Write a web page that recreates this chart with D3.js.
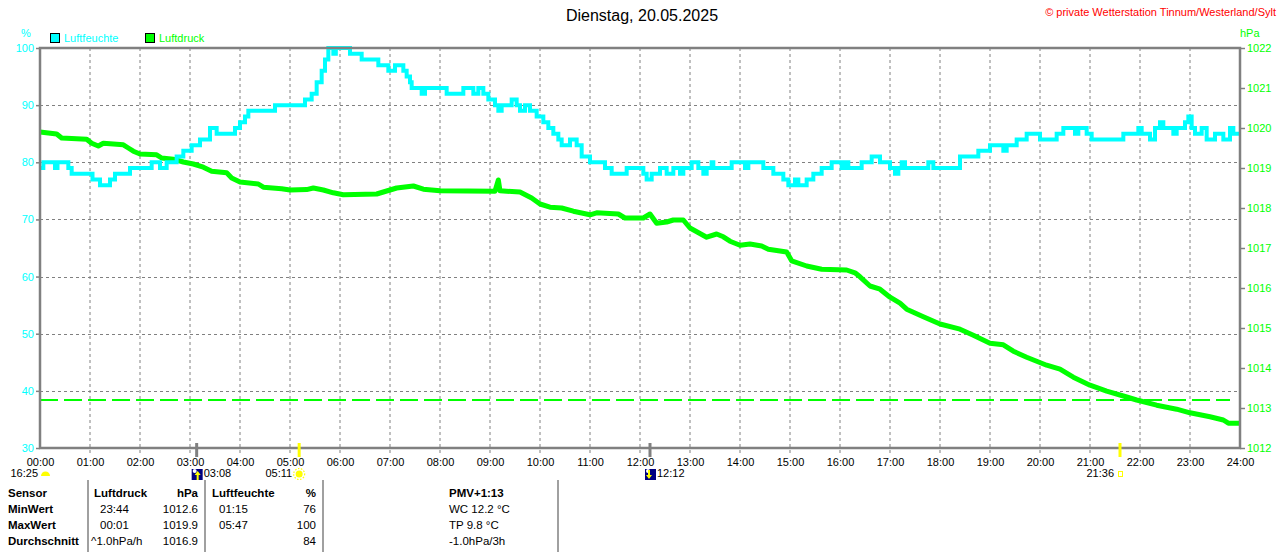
<!DOCTYPE html>
<html>
<head>
<meta charset="utf-8">
<script src="https://cdn.jsdelivr.net/npm/d3@7"></script>
<style>
	body { margin: 0; background: #fff; }
	svg { display: block; font-family: "Liberation Sans", Arial, sans-serif; }
</style>
</head>
<body>
<div id="chart"></div>
<script>
// tick labels
var hourLabels = ["00:00","01:00","02:00","03:00","04:00","05:00","06:00","07:00","08:00","09:00","10:00","11:00","12:00",
	"13:00","14:00","15:00","16:00","17:00","18:00","19:00","20:00","21:00","22:00","23:00","24:00"];
var humidityTicks = [30, 40, 50, 60, 70, 80, 90, 100];
var pressureTicks = [1012, 1013, 1014, 1015, 1016, 1017, 1018, 1019, 1020, 1021, 1022];

// [minute of day, %]
var humidity = [
	[0,79],[4,80],[18,79],[21,80],[34,79],[38,78],[63,77],[72,76],[84,77],[90,78],[108,79],[134,80],[144,79],
	[152,80],[164,81],[172,82],[182,83],[192,84],[204,86],[212,85],[234,86],[240,87],[246,88],[250,89],[282,90],
	[318,91],[326,92],[332,94],[338,96],[342,98],[346,100],[352,99],[355,100],[372,99],[386,98],[406,97],[418,96],
	[426,97],[436,96],[440,95],[444,94],[446,93],[458,92],[462,93],[488,92],[508,93],[520,92],[526,93],[532,92],
	[538,91],[546,90],[550,89],[554,90],[566,91],[572,90],[576,89],[582,90],[588,89],[596,88],[604,87],[610,86],
	[616,85],[622,84],[626,83],[636,84],[644,83],[650,81],[660,80],[678,79],[686,78],[704,79],[724,78],[728,77],
	[734,78],[744,79],[752,78],[760,79],[768,78],[772,79],[782,80],[790,79],[796,78],[800,79],[806,80],[808,79],
	[830,80],[846,79],[850,80],[868,79],[880,78],[892,77],[898,76],[906,77],[910,76],[920,77],[928,78],[938,79],
	[950,80],[962,79],[966,80],[970,79],[986,80],[998,81],[1008,80],[1020,79],[1026,78],[1030,79],[1034,80],
	[1038,79],[1066,80],[1072,79],[1104,81],[1126,82],[1140,83],[1156,82],[1160,83],[1172,84],[1184,85],
	[1200,84],[1220,85],[1228,86],[1242,85],[1246,86],[1256,85],[1262,84],[1300,85],[1318,86],[1322,85],
	[1332,84],[1338,86],[1344,87],[1348,86],[1360,85],[1364,86],[1374,87],[1378,88],[1382,86],[1386,85],
	[1394,86],[1400,84],[1410,85],[1420,84],[1428,86],[1432,85],[1440,85]
];

// [minute of day, hPa]
var pressure = [
	[0,1019.9],[20,1019.85],[26,1019.75],[56,1019.72],[62,1019.62],[70,1019.55],[76,1019.62],[100,1019.58],
	[106,1019.5],[112,1019.42],[120,1019.35],[140,1019.33],[146,1019.25],[160,1019.22],[172,1019.15],
	[184,1019.1],[196,1019.02],[206,1018.92],[224,1018.88],[230,1018.75],[240,1018.65],[262,1018.6],
	[268,1018.52],[290,1018.48],[300,1018.45],[320,1018.46],[328,1018.5],[340,1018.45],[352,1018.38],
	[364,1018.33],[404,1018.35],[412,1018.4],[428,1018.5],[448,1018.55],[460,1018.47],[480,1018.43],
	[546,1018.42],[550,1018.7],[552,1018.43],[576,1018.4],[590,1018.25],[600,1018.1],[612,1018.02],
	[626,1018.0],[640,1017.92],[660,1017.83],[668,1017.88],[694,1017.85],[702,1017.75],[724,1017.75],
	[732,1017.85],[740,1017.62],[752,1017.65],[760,1017.7],[772,1017.7],[780,1017.5],[800,1017.27],
	[812,1017.35],[820,1017.28],[828,1017.17],[840,1017.07],[852,1017.1],[866,1017.05],[874,1016.97],
	[896,1016.9],[902,1016.68],[920,1016.55],[938,1016.47],[968,1016.45],[978,1016.38],[984,1016.28],
	[996,1016.05],[1008,1015.97],[1020,1015.77],[1032,1015.62],[1040,1015.47],[1060,1015.28],[1080,1015.1],
	[1104,1014.97],[1120,1014.82],[1140,1014.62],[1156,1014.58],[1168,1014.42],[1184,1014.27],[1208,1014.07],
	[1224,1013.97],[1240,1013.77],[1260,1013.57],[1280,1013.42],[1300,1013.3],[1316,1013.2],[1340,1013.07],
	[1364,1012.97],[1380,1012.88],[1404,1012.78],[1420,1012.7],[1426,1012.62],[1440,1012.62]
];
var pressureRef = 1013.2;

// sun / moon events
var events = [
	{time: 0, label: "16:25", kind: "dome"},
	{time: 188, label: "03:08", kind: "moonrise"},
	{time: 311, label: "05:11", kind: "sunrise"},
	{time: 732, label: "12:12", kind: "moonset"},
	{time: 1296, label: "21:36", kind: "sunset"}
];

// statistics table
var tableHeader = ["Sensor", "Luftdruck", "hPa", "Luftfeuchte", "%", "PMV+1:13"];
var rowLabels = ["MinWert", "MaxWert", "Durchschnitt"];
var pressureStats = [["23:44", "1012.6"], ["00:01", "1019.9"], ["^1.0hPa/h", "1016.9"]];
var humidityStats = [["01:15", "76"], ["05:47", "100"], ["", "84"]];
var pmvStats = ["WC 12.2 °C", "TP 9.8 °C", "-1.0hPa/3h"];

var W = 1280, H = 552,
		margin = {top: 48, right: 40, bottom: 104, left: 40},
		cyan = "#00ffff", green = "#00ff00", grey = "#808080";

var x = d3.scaleLinear().domain([0, 1440]).range([margin.left, W - margin.right]);
var yH = d3.scaleLinear().domain([30, 100]).range([H - margin.bottom, margin.top]);
var yP = d3.scaleLinear().domain([1012, 1022]).range([H - margin.bottom, margin.top]);

var svg = d3.select("#chart").append("svg")
		.attr("width", W)
		.attr("height", H);

// title and copyright
svg.append("text")
		.attr("x", 642).attr("y", 21)
		.attr("text-anchor", "middle")
		.style("font-size", "16px")
		.text("Dienstag, 20.05.2025");

svg.append("text")
		.attr("x", 1276).attr("y", 16)
		.attr("text-anchor", "end")
		.style("font-size", "11px")
		.attr("fill", "#ff0000")
		.text("© private Wetterstation Tinnum/Westerland/Sylt");

// units
svg.append("text").attr("x", 26).attr("y", 37).attr("text-anchor", "middle")
		.style("font-size", "11px").attr("fill", cyan).text("%");
svg.append("text").attr("x", 1240).attr("y", 37)
		.style("font-size", "11px").attr("fill", green).text("hPa");

// legend
var legend = svg.append("g").attr("class", "legend");
var legendItems = [{name: "Luftfeuchte", color: cyan, x: 50}, {name: "Luftdruck", color: green, x: 145}];
var lg = legend.selectAll("g").data(legendItems).enter().append("g")
		.attr("transform", function(d) { return "translate(" + d.x + ",33)"; });
lg.append("rect").attr("x", 0.5).attr("y", 0.5).attr("width", 9).attr("height", 9)
		.attr("fill", function(d) { return d.color; }).attr("stroke", "#000");
lg.append("text").attr("x", 14).attr("y", 9)
		.style("font-size", "11px")
		.attr("fill", function(d) { return d.color; })
		.text(function(d) { return d.name; });

// grid
var grid = svg.append("g").attr("class", "grid")
		.attr("stroke", grey).attr("stroke-width", 1).attr("stroke-dasharray", "3,3");
grid.selectAll(".vgrid").data(d3.range(1, 24)).enter().append("line")
		.attr("x1", function(d) { return x(d * 60); })
		.attr("x2", function(d) { return x(d * 60); })
		.attr("y1", margin.top).attr("y2", H - margin.bottom + 5);
grid.selectAll(".hgrid").data(humidityTicks.slice(1, -1)).enter().append("line")
		.attr("x1", margin.left).attr("x2", W - margin.right)
		.attr("y1", function(d) { return Math.round(yH(d)) + 0.5; })
		.attr("y2", function(d) { return Math.round(yH(d)) + 0.5; });

// pressure reference line
svg.append("line")
		.attr("x1", margin.left).attr("x2", W - margin.right - 10)
		.attr("y1", yP(pressureRef)).attr("y2", yP(pressureRef))
		.attr("stroke", green).attr("stroke-width", 2).attr("stroke-dasharray", "18,6");

// lines
var lineP = d3.line()
		.x(function(d) { return x(d[0]); })
		.y(function(d) { return yP(d[1]); });
var lineH = d3.line()
		.x(function(d) { return x(d[0]); })
		.y(function(d) { return yH(d[1]); })
		.curve(d3.curveStepAfter);

svg.append("path").datum(pressure)
		.attr("d", lineP)
		.attr("fill", "none").attr("stroke", green).attr("stroke-width", 5)
		.attr("stroke-linejoin", "round");
svg.append("path").datum(humidity)
		.attr("d", lineH)
		.attr("fill", "none").attr("stroke", cyan).attr("stroke-width", 4);

// frame
svg.append("path")
		.attr("d", "M" + margin.left + "," + (H - margin.bottom) + "V" + margin.top + "H" + (W - margin.right) + "V" + (H - margin.bottom) + "Z")
		.attr("fill", "none").attr("stroke", grey).attr("stroke-width", 2.5);

// axes
var axisLeft = d3.axisLeft(yH).tickValues(humidityTicks).tickSize(4).tickPadding(2);
var axisRight = d3.axisRight(yP).tickValues(pressureTicks).tickSize(5).tickPadding(2).tickFormat(d3.format("d"));
var axisBottom = d3.axisBottom(x).tickValues(d3.range(0, 1441, 60)).tickSize(0).tickPadding(10)
		.tickFormat(function(d, i) { return hourLabels[i]; });

var gl = svg.append("g").attr("transform", "translate(" + margin.left + ",0)").call(axisLeft);
var gr = svg.append("g").attr("transform", "translate(" + (W - margin.right) + ",0)").call(axisRight);
var gb = svg.append("g").attr("transform", "translate(0," + (H - margin.bottom) + ")").call(axisBottom);

[gl, gr, gb].forEach(function(g) {
	g.select(".domain").remove();
	g.selectAll("line").attr("stroke", grey).attr("stroke-width", 1.5);
	g.selectAll("text").style("font-size", "11px").attr("font-family", null);
});
gl.selectAll("text").attr("fill", cyan);
gr.selectAll("text").attr("fill", green);
gb.selectAll("text").attr("fill", "#000");

// event ticks and icons
var ev = svg.append("g").attr("class", "events");
ev.selectAll(".evtick").data(events.filter(function(d) { return d.time > 0; })).enter().append("line")
		.attr("x1", function(d) { return x(d.time); })
		.attr("x2", function(d) { return x(d.time); })
		.attr("y1", H - margin.bottom - 5).attr("y2", H - margin.bottom + 9)
		.attr("stroke", function(d) { return d.kind.indexOf("sun") === 0 ? "#ffff00" : grey; })
		.attr("stroke-width", 3);

events.forEach(function(d) {
	var cx = x(d.time), ty = 477;
	var g = ev.append("g");
	if (d.kind === "dome") {
		g.append("path").attr("d", "M" + (cx + 1) + ",476 A4.5,4.5 0 0 1 " + (cx + 10) + ",476 Z").attr("fill", "#ffff00");
		g.append("text").attr("x", cx - 2).attr("y", ty).attr("text-anchor", "end").style("font-size", "11px").text(d.label);
	} else if (d.kind === "moonrise" || d.kind === "moonset") {
		g.append("rect").attr("x", cx - 5).attr("y", 469).attr("width", 11).attr("height", 11).attr("fill", "#000080");
		g.append("circle").attr("cx", cx - 2).attr("cy", 471).attr("r", 2).attr("fill", "#fff");
		g.append("path")
				.attr("d", d.kind === "moonrise"
					? "M" + (cx + 1) + ",471 l-3,4 h2 v5 h2 v-5 h2 Z"
					: "M" + (cx - 1) + ",479 l-3,-4 h2 v-5 h2 v5 h2 Z")
				.attr("fill", "#ffff00");
		g.append("text").attr("x", cx + 7).attr("y", ty).style("font-size", "11px").text(d.label);
	} else if (d.kind === "sunrise") {
		g.append("circle").attr("cx", cx).attr("cy", 474).attr("r", 3.5).attr("fill", "#ffff00");
		g.append("circle").attr("cx", cx).attr("cy", 474).attr("r", 5.5).attr("fill", "none")
				.attr("stroke", "#ffff00").attr("stroke-width", 1.2).attr("stroke-dasharray", "1.5,1.5");
		g.append("text").attr("x", cx - 7).attr("y", ty).attr("text-anchor", "end").style("font-size", "11px").text(d.label);
	} else {
		g.append("rect").attr("x", cx - 1.5).attr("y", 471.5).attr("width", 4).attr("height", 5)
				.attr("fill", "none").attr("stroke", "#ffff00").attr("stroke-width", 1);
		g.append("text").attr("x", cx - 6).attr("y", ty).attr("text-anchor", "end").style("font-size", "11px").text(d.label);
	}
});

// table
var table = svg.append("g").attr("class", "table").style("font-size", "11.5px");
[88, 205, 323, 558].forEach(function(lx) {
	table.append("line").attr("x1", lx).attr("x2", lx).attr("y1", 480).attr("y2", H)
			.attr("stroke", grey).attr("stroke-width", 1.5);
});

var rowY = [497, 513, 529, 545];
var headerPos = [{x: 8, a: "start"}, {x: 94, a: "start"}, {x: 198, a: "end"}, {x: 212, a: "start"}, {x: 316, a: "end"}, {x: 449, a: "start"}];
tableHeader.forEach(function(t, i) {
	table.append("text").attr("x", headerPos[i].x).attr("y", rowY[0])
			.attr("text-anchor", headerPos[i].a).style("font-weight", "bold").text(t);
});
rowLabels.forEach(function(t, i) {
	var y = rowY[i + 1];
	table.append("text").attr("x", 8).attr("y", y).style("font-weight", "bold").text(t);
	var p = pressureStats[i], h = humidityStats[i];
	table.append("text").attr("x", p[0].charAt(0) === "^" ? 91 : 100).attr("y", y).text(p[0]);
	table.append("text").attr("x", 198).attr("y", y).attr("text-anchor", "end").text(p[1]);
	table.append("text").attr("x", 219).attr("y", y).text(h[0]);
	table.append("text").attr("x", 316).attr("y", y).attr("text-anchor", "end").text(h[1]);
	table.append("text").attr("x", 449).attr("y", y).text(pmvStats[i]);
});
</script>
</body>
</html>
